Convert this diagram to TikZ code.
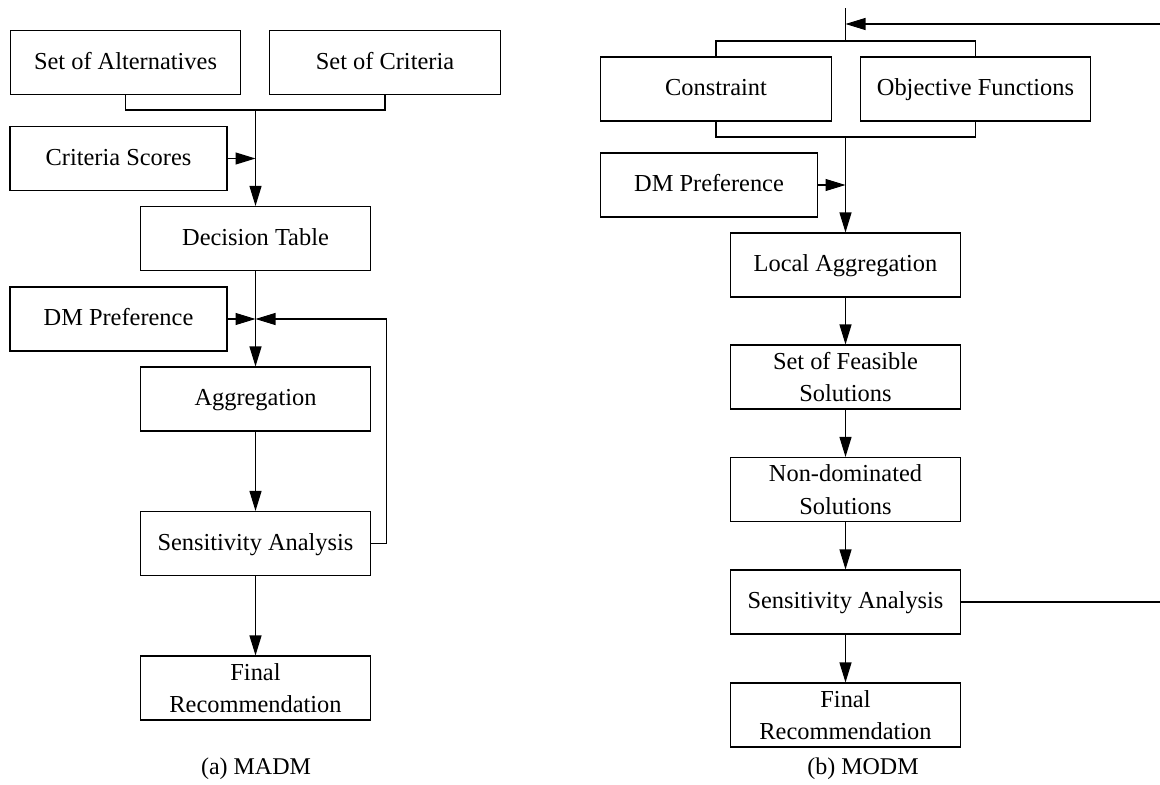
\documentclass[tikz,border=0pt]{standalone}
\usepackage{fontspec}
\setmainfont{Liberation Serif}
\usepackage{tikz}
\usetikzlibrary{arrows.meta, calc}

\begin{document}
\begin{tikzpicture}[x=0.75pt, y=-0.75pt,
    cell/.style={draw, line width=0.8pt, minimum width=173pt, minimum height=48pt,
        inner sep=0pt, align=center, font=\fontsize{18.3}{24.5}\selectfont},
    box/.style={cell, execute at begin node=\strut},
    twoline/.style={cell},
    sidebox/.style={box, minimum width=162.75pt},
    arr/.style={-{Triangle[length=15pt, width=9pt]}, line width=0.8pt},
    link/.style={line width=0.8pt},
    caption/.style={font=\fontsize{18}{22}\selectfont}]
    \useasboundingbox (0,0) rectangle (1160,785);
    % MADM
    \node[box] (alt) at (125.5,62.5) {Set of Alternatives};
    \node[box] (crit) at (385,62.5) {Set of Criteria};
    \node[sidebox] (cscore) at (118.5,158.5) {Criteria Scores};
    \node[box] (dtab) at (255.5,238.5) {Decision Table};
    \node[sidebox] (dmpl) at (118.5,319) {DM Preference};
    \node[box] (agg) at (255.5,399) {Aggregation};
    \node[box] (sens) at (255.5,543.5) {Sensitivity Analysis};
    \node[twoline] (final) at (255.5,688) {Final\\Recommendation};
    \coordinate (ljoin) at (255.5,110);
    \coordinate (lmeet) at (255.5,319);
    \draw[link] (alt.south) |- (ljoin) -| (crit.south);
    \draw[arr] (ljoin) -- (dtab.north);
    \draw[arr] (cscore.east) -- (cscore.east -| ljoin);
    \draw[arr] (dtab) -- (agg);
    \draw[arr] (dmpl.east) -- (lmeet);
    \draw[arr] (agg) -- (sens);
    \draw[arr] (sens) -- (final);
    % Retorno
    \draw[arr] (sens.east) -- ++(15,0) |- (lmeet);
    \node[caption] (capa) at (256,769) {(a) MADM};
    % MODM
    \node[box] (cons) at (716,89) {Constraint};
    \node[box] (obj) at (975.5,89) {Objective Functions};
    \node[sidebox] (dmpr) at (709,185) {DM Preference};
    \node[box] (lagg) at (845.5,265) {Local Aggregation};
    \node[twoline] (feas) at (845.5,377) {Set of Feasible\\Solutions};
    \node[twoline] (nondom) at (845.5,489.5) {Non-dominated\\Solutions};
    \node[box] (rsens) at (845.5,602) {Sensitivity Analysis};
    \node[twoline] (rfinal) at (845.5,715) {Final\\Recommendation};
    \coordinate (rtop) at (845.5,8);
    \coordinate (rfb) at (845.5,24);
    \coordinate (rjoina) at (845.5,41);
    \coordinate (rjoinb) at (845.5,137);
    \coordinate (rcorner) at (1163,24);
    \draw[link] (rtop) -- (rjoina);
    \draw[link] (cons.north) |- (rjoina) -| (obj.north);
    \draw[link] (cons.south) |- (rjoinb) -| (obj.south);
    \draw[arr] (rjoinb) -- (lagg.north);
    \draw[arr] (dmpr.east) -- (dmpr.east -| rjoinb);
    \draw[arr] (lagg) -- (feas);
    \draw[arr] (feas) -- (nondom);
    \draw[arr] (nondom) -- (rsens);
    \draw[arr] (rsens) -- (rfinal);
    % Retorno
    \draw[arr] (rsens.east) -| (rcorner) -- (rfb);
    \node[caption] (capb) at (863,769) {(b) MODM};
\end{tikzpicture}
\end{document}
